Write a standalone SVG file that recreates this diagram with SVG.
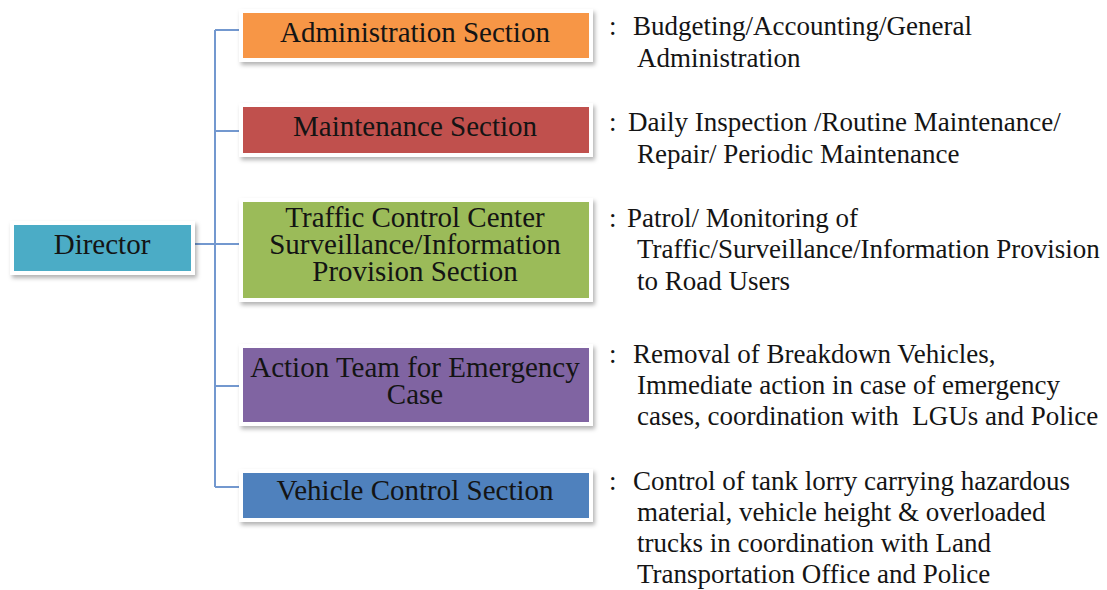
<svg xmlns="http://www.w3.org/2000/svg" width="1107" height="590" viewBox="0 0 1107 590" font-family="Liberation Serif, serif">
  <defs>
    <filter id="shadow" x="-10%" y="-20%" width="120%" height="150%">
      <feDropShadow dx="2" dy="3" stdDeviation="2" flood-color="#000" flood-opacity="0.3"/>
    </filter>
    <style>
      .frame { fill: #ffffff; filter: url(#shadow); }
      text { font-family: "Liberation Serif", serif; fill: #141414; }
      .lbl { font-size: 29px; text-anchor: middle; }
      .desc { font-size: 27px; white-space: pre; }
      .conn { fill: none; stroke: #7398CF; stroke-width: 2; }
    </style>
  </defs>
  <rect width="1107" height="590" fill="#ffffff"/>

  <!-- tree lines from the director to each section -->
  <g id="connectors">
    <path class="conn" d="M195,244 H239"/>
    <path class="conn" d="M215,30 V487"/>
    <path class="conn" d="M215,30 H239"/>
    <path class="conn" d="M215,131 H239"/>
    <path class="conn" d="M215,386 H239"/>
    <path class="conn" d="M215,487 H239"/>
  </g>

  <g id="director">
    <rect class="frame" x="10" y="221" width="185" height="54"/>
    <rect x="14" y="225" width="177" height="46" fill="#4BACC6"/>
    <text class="lbl" x="102" y="254">Director</text>
  </g>

  <g id="admin">
    <rect class="frame" x="239" y="9" width="354" height="53"/>
    <rect x="243" y="13" width="346" height="45" fill="#F79646"/>
    <text class="lbl" x="415" y="42">Administration Section</text>
    <text class="desc" x="609" y="35">:</text>
    <text class="desc" x="633" y="35">Budgeting/Accounting/General</text>
    <text class="desc" x="637" y="67">Administration</text>
  </g>

  <g id="maintenance">
    <rect class="frame" x="239" y="103" width="354" height="54"/>
    <rect x="243" y="107" width="346" height="46" fill="#C0504D"/>
    <text class="lbl" x="415" y="136">Maintenance Section</text>
    <text class="desc" x="609" y="131">:</text>
    <text class="desc" x="628" y="131">Daily Inspection /Routine Maintenance/</text>
    <text class="desc" x="637" y="163">Repair/ Periodic Maintenance</text>
  </g>

  <g id="traffic">
    <rect class="frame" x="239" y="198" width="354" height="104"/>
    <rect x="243" y="202" width="346" height="96" fill="#9BBB59"/>
    <text class="lbl" x="415" y="227">Traffic Control Center</text>
    <text class="lbl" x="415" y="254">Surveillance/Information</text>
    <text class="lbl" x="415" y="281">Provision Section</text>
    <text class="desc" x="609" y="227">:</text>
    <text class="desc" x="627" y="227">Patrol/ Monitoring of</text>
    <text class="desc" x="637" y="258">Traffic/Surveillance/Information Provision</text>
    <text class="desc" x="637" y="290">to Road Users</text>
  </g>

  <g id="emergency">
    <rect class="frame" x="239" y="344" width="354" height="82"/>
    <rect x="243" y="348" width="346" height="74" fill="#8064A2"/>
    <text class="lbl" x="415" y="377">Action Team for Emergency</text>
    <text class="lbl" x="415" y="404">Case</text>
    <text class="desc" x="609" y="363">:</text>
    <text class="desc" x="633" y="363">Removal of Breakdown Vehicles,</text>
    <text class="desc" x="637" y="394">Immediate action in case of emergency</text>
    <text class="desc" x="637" y="425" xml:space="preserve">cases, coordination with  LGUs and Police</text>
  </g>

  <g id="vehicle">
    <rect class="frame" x="239" y="469" width="354" height="53"/>
    <rect x="243" y="473" width="346" height="45" fill="#4F81BD"/>
    <text class="lbl" x="415" y="500">Vehicle Control Section</text>
    <text class="desc" x="609" y="490">:</text>
    <text class="desc" x="633" y="490">Control of tank lorry carrying hazardous</text>
    <text class="desc" x="637" y="521">material, vehicle height &amp; overloaded</text>
    <text class="desc" x="637" y="552">trucks in coordination with Land</text>
    <text class="desc" x="637" y="583">Transportation Office and Police</text>
  </g>
</svg>
